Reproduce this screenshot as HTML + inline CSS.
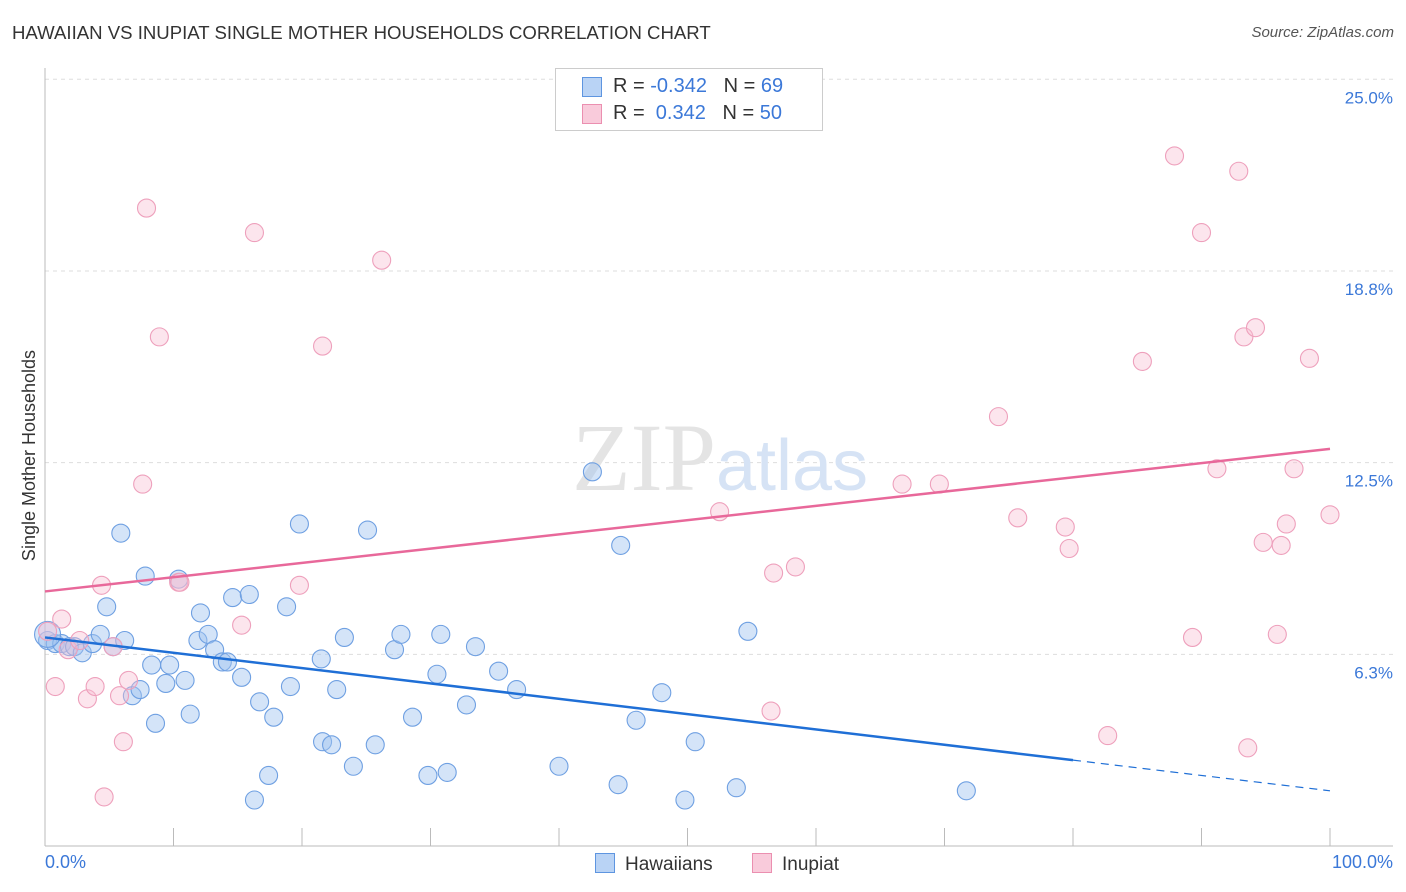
<!DOCTYPE html>
<html><head><meta charset="utf-8"><style>
body{margin:0;background:#fff;font-family:"Liberation Sans",sans-serif;}
#wrap{position:relative;width:1406px;height:892px;overflow:hidden}
.t{position:absolute;white-space:nowrap}
</style></head><body>
<div id="wrap">
<div class="t" style="left:12px;top:22px;font-size:18.6px;color:#333">HAWAIIAN VS INUPIAT SINGLE MOTHER HOUSEHOLDS CORRELATION CHART</div>
<div class="t" style="right:12px;top:24px;font-size:15px;color:#555;font-style:italic">Source: ZipAtlas.com</div>
<svg id="plot" width="1406" height="892" style="position:absolute;left:0;top:0"></svg>
</div>
<script>
const yTicks=[6.25,12.5,18.75,25];
const yTickLabels=["6.3%","12.5%","18.8%","25.0%"];
const blueX=[0.2,0.8,1.3,1.9,2.3,2.9,3.7,4.3,4.8,5.3,5.9,6.2,6.8,7.4,7.8,8.3,8.6,9.7,9.4,10.4,10.9,11.3,12.1,11.9,12.7,13.2,13.8,14.2,14.6,15.3,15.9,16.3,16.7,17.4,17.8,18.8,19.1,19.8,21.5,21.6,22.3,22.7,23.3,24.0,25.1,25.7,27.2,27.7,28.6,29.8,30.5,30.8,31.3,32.8,33.5,35.3,36.7,40.0,42.6,44.6,44.8,46.0,48.0,49.8,50.6,53.8,54.7,71.7,0.2];
const blueY=[6.7,6.6,6.6,6.5,6.5,6.3,6.6,6.9,7.8,6.5,10.2,6.7,4.9,5.1,8.8,5.9,4.0,5.9,5.3,8.7,5.4,4.3,7.6,6.7,6.9,6.4,6.0,6.0,8.1,5.5,8.2,1.5,4.7,2.3,4.2,7.8,5.2,10.5,6.1,3.4,3.3,5.1,6.8,2.6,10.3,3.3,6.4,6.9,4.2,2.3,5.6,6.9,2.4,4.6,6.5,5.7,5.1,2.6,12.2,2.0,9.8,4.1,5.0,1.5,3.4,1.9,7.0,1.8,6.9];
const pinkX=[0.2,0.8,1.3,1.8,2.7,3.3,3.9,4.4,4.6,5.3,5.8,6.1,6.5,7.6,7.9,8.9,10.4,15.3,16.3,19.8,21.6,26.2,52.5,56.5,56.7,58.4,66.7,69.6,74.2,75.7,79.4,79.7,82.7,85.4,87.9,89.3,90.0,91.2,92.9,93.3,93.6,94.2,94.8,95.9,96.2,96.6,97.2,98.4,100.0,10.5];
const pinkY=[7.0,5.2,7.4,6.4,6.7,4.8,5.2,8.5,1.6,6.5,4.9,3.4,5.4,11.8,20.8,16.6,8.6,7.2,20.0,8.5,16.3,19.1,10.9,4.4,8.9,9.1,11.8,11.8,14.0,10.7,10.4,9.7,3.6,15.8,22.5,6.8,20.0,12.3,22.0,16.6,3.2,16.9,9.9,6.9,9.8,10.5,12.3,15.9,10.8,8.6];
const blueTrend=[6.8,2.8,1.8];const pinkTrend=[8.3,12.95];
const X=v=>45+v*12.85, Y=v=>846-v*30.67;
const svg=document.getElementById('plot');const NS='http://www.w3.org/2000/svg';
function mk(t,a,p){const e=document.createElementNS(NS,t);for(const k in a)e.setAttribute(k,a[k]);(p||svg).appendChild(e);return e;}
yTicks.forEach((v,i)=>{const l=mk('line',{x1:45,x2:1393,y1:Y(v),y2:Y(v),stroke:'#ddd','stroke-dasharray':'4,4'});


const t=mk('text',{x:1393,y:Y(v)+24,'text-anchor':'end','font-size':17,fill:'#3b78d8','font-family':'Liberation Sans'});t.textContent=yTickLabels[i];

});
mk('line',{x1:45,x2:45,y1:68,y2:846,stroke:'#bbb'});
mk('line',{x1:45,x2:1393,y1:846,y2:846,stroke:'#bbb'});
for(let i=1;i<=10;i++){mk('line',{x1:X(i*10),x2:X(i*10),y1:828,y2:846,stroke:'#bbb'});}
const wm=mk('text',{x:720,y:490,'text-anchor':'middle','font-size':96,fill:'#e4e4e4','font-family':'Liberation Serif'});wm.innerHTML='ZIP<tspan fill="#d6e3f5" font-family="Liberation Sans" font-size="72">atlas</tspan>';


blueX.forEach((x,i)=>{const c=mk('circle',{cx:X(x),cy:Y(blueY[i]),r:i==blueX.length-1?13:9,fill:'rgba(160,196,240,0.45)',stroke:'#6fa0e2','stroke-width':1.1});

});
pinkX.forEach((x,i)=>{const c=mk('circle',{cx:X(x),cy:Y(pinkY[i]),r:9,fill:'rgba(248,190,210,0.4)',stroke:'#eea0bc','stroke-width':1.1});

});
const bt=mk('line',{x1:X(0),y1:Y(blueTrend[0]),x2:X(80),y2:Y(blueTrend[1]),stroke:'#1f6fd6','stroke-width':2.5});


mk('line',{x1:X(80),y1:Y(blueTrend[1]),x2:X(100),y2:Y(blueTrend[2]),stroke:'#1f6fd6','stroke-width':1.2,'stroke-dasharray':'8,6'});
const pt=mk('line',{x1:X(0),y1:Y(pinkTrend[0]),x2:X(100),y2:Y(pinkTrend[1]),stroke:'#e8689a','stroke-width':2.5});


</script>
<div class="t" style="left:45px;top:852px;font-size:18px;color:#3b78d8">0.0%</div>
<div class="t" style="right:13px;top:852px;font-size:18px;color:#3b78d8">100.0%</div>
<div class="t" style="left:-76px;top:445px;font-size:18px;color:#333;transform:rotate(-90deg)">Single Mother Households</div>
<div style="position:absolute;left:555px;top:68px;width:266px;height:61px;border:1px solid #ccc;background:#fff;font-size:20px;color:#333">
<div style="position:absolute;left:26px;top:8px;width:18px;height:18px;background:#b9d3f5;border:1px solid #5e95e0"></div>
<div class="t" style="left:57px;top:6px">R = <span style="color:#3b78d8">-0.342</span>&nbsp;&nbsp;&nbsp;N = <span style="color:#3b78d8">69</span></div>
<div style="position:absolute;left:26px;top:35px;width:18px;height:18px;background:#f9cbdb;border:1px solid #eb8fb0"></div>
<div class="t" style="left:57px;top:33px">R = &nbsp;<span style="color:#3b78d8">0.342</span>&nbsp;&nbsp;&nbsp;N = <span style="color:#3b78d8">50</span></div>
</div>
<div style="position:absolute;left:595px;top:853px;font-size:19px;color:#333"><span style="display:inline-block;width:18px;height:18px;background:#b9d3f5;border:1px solid #5e95e0;vertical-align:-3px;margin-right:10px"></span>Hawaiians</div>
<div style="position:absolute;left:752px;top:853px;font-size:19px;color:#333"><span style="display:inline-block;width:18px;height:18px;background:#f9cbdb;border:1px solid #eb8fb0;vertical-align:-3px;margin-right:10px"></span>Inupiat</div>
</body></html>
